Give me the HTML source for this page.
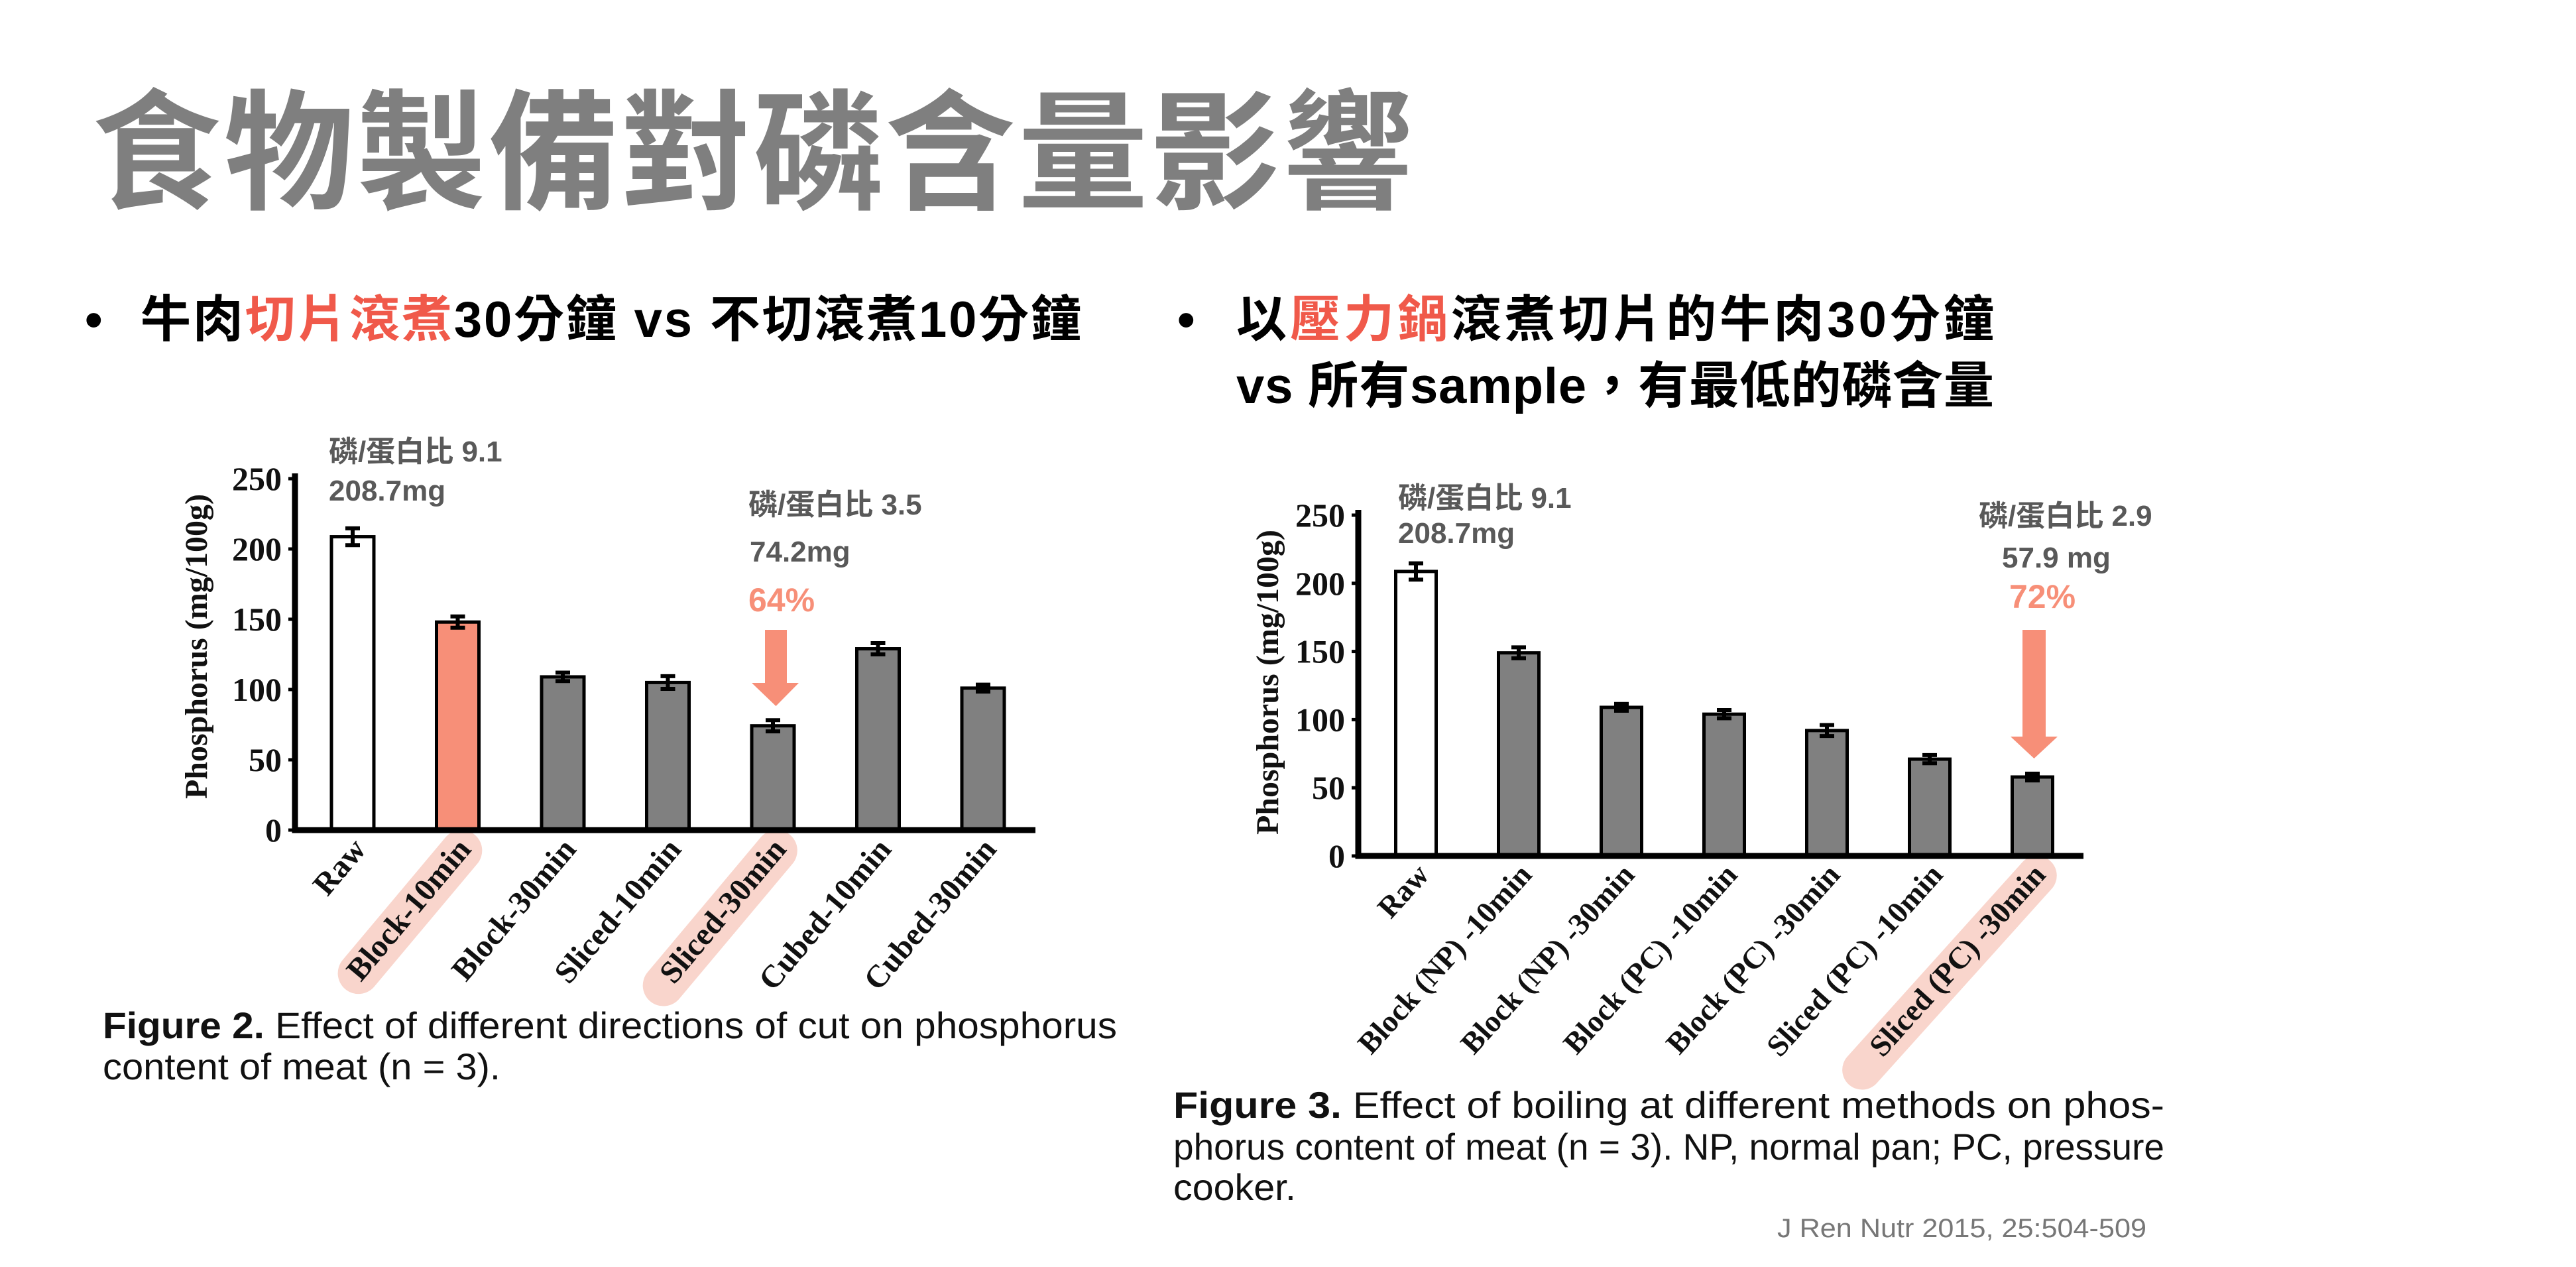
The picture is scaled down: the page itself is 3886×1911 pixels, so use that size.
<!DOCTYPE html>
<html><head><meta charset="utf-8"><style>
html,body{margin:0;padding:0;background:#fff;}
svg{display:block;}
.t{font-family:"Liberation Sans","Noto Sans CJK TC",sans-serif;}
.s{font-family:"Liberation Serif",serif;font-weight:bold;}
</style></head><body>
<svg id="root" width="3886" height="1911" viewBox="0 0 3886 1911" xmlns="http://www.w3.org/2000/svg">
<text class="t" x="138" y="300" font-size="196" font-weight="bold" fill="#7f7f7f" textLength="1993">食物製備對磷含量影響</text>
<g class="t" font-size="76" font-weight="bold" fill="#000">
<text x="128" y="508">•</text>
<text x="212" y="508" textLength="1419">牛肉<tspan fill="#F0594A">切片滾煮</tspan>30分鐘 vs 不切滾煮10分鐘</text>
<text x="1776" y="508">•</text>
<text x="1865" y="508" textLength="1143">以<tspan fill="#F0594A">壓力鍋</tspan>滾煮切片的牛肉30分鐘</text>
<text x="1865" y="608" textLength="1143">vs 所有sample，有最低的磷含量</text>
</g>
<g id="c1"></g>
<g id="c2"></g>
<g class="t" fill="#111" font-size="56">
<text x="155" y="1566" textLength="1530" lengthAdjust="spacingAndGlyphs"><tspan font-weight="bold">Figure 2.</tspan> Effect of different directions of cut on phosphorus</text>
<text x="155" y="1628" textLength="600" lengthAdjust="spacingAndGlyphs">content of meat (n = 3).</text>
<text x="1770" y="1686" textLength="1495" lengthAdjust="spacingAndGlyphs"><tspan font-weight="bold">Figure 3.</tspan> Effect of boiling at different methods on phos-</text>
<text x="1770" y="1749" textLength="1495" lengthAdjust="spacingAndGlyphs">phorus content of meat (n = 3). NP, normal pan; PC, pressure</text>
<text x="1770" y="1810" textLength="185" lengthAdjust="spacingAndGlyphs">cooker.</text>
</g>
<text class="t" x="2681" y="1866" font-size="40" fill="#777" textLength="557" lengthAdjust="spacingAndGlyphs">J Ren Nutr 2015, 25:504-509</text>
</svg>
<script>
const cats1 = ["Raw","Block-10min","Block-30min","Sliced-10min","Sliced-30min","Cubed-10min","Cubed-30min"];
const vals1 = [208.7,148,109,105,74.2,129,101];
const errs1 = [6,4,3,4.5,4,4,2.5];
const fill1 = ["#fff","#F78F78","#808080","#808080","#808080","#808080","#808080"];
const hi1 = [false,true,false,false,true,false,false];
const cats2 = ["Raw","Block (NP) -10min","Block (NP) -30min","Block (PC) -10min","Block (PC) -30min","Sliced (PC) -10min","Sliced (PC) -30min"];
const vals2 = [208.7,149,109,104,92,71,57.9];
const errs2 = [6,4,2.5,3,4,3,2.5];
const fill2 = ["#fff","#808080","#808080","#808080","#808080","#808080","#808080"];
const hi2 = [false,false,false,false,false,false,true];
const ticks = [0,50,100,150,200,250];
const NS="http://www.w3.org/2000/svg";
function mk(p,tag,a,txt){const e=document.createElementNS(NS,tag);for(const k in a)e.setAttribute(k,a[k]);if(txt!==undefined)e.textContent=txt;p.appendChild(e);return e;}
function chart(g,cfg,cats,vals,errs,fills,hi){
  const y=v=>cfg.y0-(cfg.y0-cfg.y250)*v/250;
  const x=i=>cfg.xc0+i*cfg.step;
  cats.forEach((c,i)=>{ if(!hi[i])return;
    const len=c.length*cfg.fs*0.5+40;
    const r=mk(g,'rect',{x:-len+20,y:-cfg.fs*0.9,width:len,height:cfg.fs*1.3,rx:cfg.fs*0.65,fill:'#F9D5CC',transform:`translate(${x(i)+22},${cfg.y0+30}) rotate(-${cfg.ang})`});
    
    
  });
  vals.forEach((v,i)=>{
    const b=mk(g,'rect',{x:x(i)-cfg.bw/2,y:y(v),width:cfg.bw,height:cfg.y0-y(v),fill:fills[i],stroke:'#000','stroke-width':5});
    
    
    const e=mk(g,'path',{d:`M${x(i)} ${y(v+errs[i])}V${y(v-errs[i])}M${x(i)-11} ${y(v+errs[i])}H${x(i)+11}M${x(i)-11} ${y(v-errs[i])}H${x(i)+11}`,stroke:'#000','stroke-width':6,fill:'none'});
    
    
    const t=mk(g,'text',{class:'s','font-size':cfg.fs,'text-anchor':'end',fill:'#111',transform:`translate(${x(i)+22},${cfg.y0+30}) rotate(-${cfg.ang})`},cats[i]);
    
    
  });
  const ax=mk(g,'path',{d:`M${cfg.ax} ${cfg.y250-8}V${cfg.y0}H${cfg.xend}`,stroke:'#000','stroke-width':9,fill:'none'});
  
  
  ticks.forEach(tv=>{
    const t=mk(g,'text',{class:'s','font-size':50,'text-anchor':'end',x:cfg.ax-20,y:y(tv)+17,fill:'#111'},String(tv));
    
    
    const k=mk(g,'line',{x1:cfg.ax-10,x2:cfg.ax,y1:y(tv),y2:y(tv),stroke:'#000','stroke-width':5});
    
    
  });
  const yt=mk(g,'text',{class:'s','font-size':48,'text-anchor':'middle',fill:'#111',transform:`translate(${cfg.ytx},${cfg.yty}) rotate(-90)`},'Phosphorus  (mg/100g)');
  
  
}
const c1=document.getElementById('c1'), c2=document.getElementById('c2');
chart(c1,{y0:1252,y250:722,xc0:532,step:158.5,bw:64,ax:445,xend:1562,fs:48,ang:50,ytx:312,yty:975},cats1,vals1,errs1,fill1,hi1);
chart(c2,{y0:1291,y250:777,xc0:2136,step:155,bw:61,ax:2049,xend:3143,fs:46,ang:48,ytx:1928,yty:1029},cats2,vals2,errs2,fill2,hi2);
function ann(g,x,y,txt,fs,col,name){const t=mk(g,'text',{class:'t',x:x,y:y,'font-size':fs,'font-weight':'bold',fill:col},txt);}
ann(c1,496,696,'磷/蛋白比 9.1',44,'#595959','annotation-raw-ratio');
ann(c1,496,755,'208.7mg',44,'#595959','annotation-raw-value');
ann(c1,1129,776,'磷/蛋白比 3.5',44,'#595959','annotation-sliced-ratio');
ann(c1,1131,847,'74.2mg',44,'#595959','annotation-sliced-value');
ann(c1,1129,922,'64%',50,'#F78F78','annotation-reduction-64');
ann(c2,2109,766,'磷/蛋白比 9.1',44,'#595959','annotation-raw-ratio');
ann(c2,2109,819,'208.7mg',44,'#595959','annotation-raw-value');
ann(c2,2985,793,'磷/蛋白比 2.9',44,'#595959','annotation-pc-ratio');
ann(c2,3020,856,'57.9 mg',44,'#595959','annotation-pc-value');
ann(c2,3031,917,'72%',50,'#F78F78','annotation-reduction-72');
function arrow(g,x1,x2,top,hb,tip,h1,h2,name){const a=mk(g,'path',{d:`M${x1} ${top}H${x2}V${hb}H${h2}L${(x1+x2)/2} ${tip}L${h1} ${hb}H${x1}Z`,fill:'#F78F78'});}
arrow(c1,1154,1187,950,1030,1065,1134,1205,'arrow-64');
arrow(c2,3051,3086,950,1111,1144,3033,3104,'arrow-72');
</script>
</body></html>
